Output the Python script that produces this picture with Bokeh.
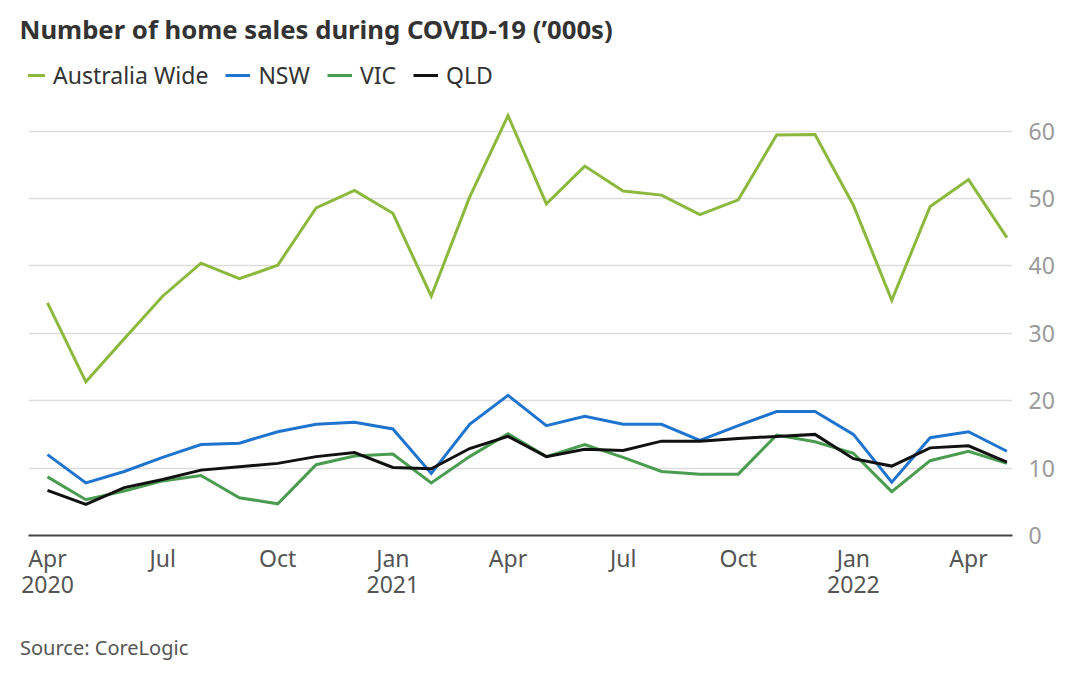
from bokeh.plotting import figure
from bokeh.layouts import column
from bokeh.models import (ColumnDataSource, FixedTicker, Legend, LegendItem, Range1d, Div)
from bokeh.embed import file_html
from bokeh.resources import INLINE

# ---- data (thousands of home sales, monthly Apr 2020 - May 2022) ----
months = ["2020-04", "2020-05", "2020-06", "2020-07", "2020-08", "2020-09", "2020-10",
          "2020-11", "2020-12", "2021-01", "2021-02", "2021-03", "2021-04", "2021-05",
          "2021-06", "2021-07", "2021-08", "2021-09", "2021-10", "2021-11", "2021-12",
          "2022-01", "2022-02", "2022-03", "2022-04", "2022-05"]
australia = [34.5, 22.8, 29.2, 35.5, 40.4, 38.1, 40.1, 48.6, 51.2, 47.8, 35.5, 50.2, 62.3,
             49.2, 54.8, 51.1, 50.5, 47.6, 49.8, 59.4, 59.5, 49.0, 34.9, 48.8, 52.8, 44.2]
nsw = [12.0, 7.8, 9.5, 11.6, 13.5, 13.7, 15.4, 16.5, 16.8, 15.8, 9.2, 16.5, 20.8,
       16.3, 17.7, 16.5, 16.5, 14.1, 16.3, 18.4, 18.4, 15.0, 7.9, 14.5, 15.4, 12.5]
vic = [8.7, 5.3, 6.6, 8.1, 8.9, 5.6, 4.7, 10.5, 11.8, 12.1, 7.8, 11.7, 15.1,
       11.7, 13.5, 11.6, 9.5, 9.1, 9.1, 14.9, 13.9, 12.2, 6.5, 11.1, 12.5, 10.7]
qld = [6.7, 4.6, 7.1, 8.3, 9.7, 10.2, 10.7, 11.7, 12.3, 10.1, 9.9, 12.9, 14.7,
       11.7, 12.8, 12.6, 14.0, 14.0, 14.4, 14.7, 15.0, 11.4, 10.3, 13.0, 13.3, 10.9]
series_names = ["Australia Wide", "NSW", "VIC", "QLD"]
series_colors = ["#8cb83e", "#1f74cf", "#4a9c50", "#111111"]
x_tick_months = ["2020-04", "2020-07", "2020-10", "2021-01", "2021-04", "2021-07",
                 "2021-10", "2022-01", "2022-04"]
x_tick_labels = ["Apr\n2020", "Jul", "Oct", "Jan\n2021", "Apr", "Jul", "Oct", "Jan\n2022", "Apr"]
y_ticks = [0, 10, 20, 30, 40, 50, 60]

FONT = "Noto Sans"

idx = list(range(len(months)))
src = ColumnDataSource(dict(x=idx, australia=australia, nsw=nsw, vic=vic, qld=qld))

p = figure(width=1072, height=605, output_backend="svg", toolbar_location=None,
           x_range=Range1d(-0.495, 25.146), y_range=Range1d(0, 71.06),
           min_border_left=28, min_border_right=60, min_border_top=50, min_border_bottom=70,
           y_axis_location="right")
p.outline_line_color = None
p.background_fill_color = "white"
p.border_fill_color = "white"

# title
p.title.text = "Number of home sales during COVID-19 (\u2019000s)"
p.title.text_font = FONT
p.title.text_font_size = "25.7px"
p.title.text_font_style = "bold"
p.title.text_color = "#333333"
p.title.align = "left"
p.title.offset = -9
p.title.standoff = 19

renderers = []
for col, name, color in zip(["australia", "nsw", "vic", "qld"], series_names, series_colors):
    r = p.line("x", col, source=src, line_color=color, line_width=3, line_join="miter")
    renderers.append((name, r))

legend = Legend(items=[LegendItem(label=n, renderers=[r]) for n, r in renderers],
                orientation="horizontal", location=(-8, 444),
                label_text_font=FONT, label_text_font_size="23px", label_text_color="#333333",
                glyph_width=25, glyph_height=24, label_standoff=8, spacing=17,
                padding=0, margin=0, background_fill_alpha=0, border_line_color=None)
p.add_layout(legend)

# x axis
tick_pos = [months.index(m) for m in x_tick_months]
xa = p.xaxis[0]
xa.ticker = FixedTicker(ticks=tick_pos)
xa.major_label_overrides = {t: l for t, l in zip(tick_pos, x_tick_labels)}
xa.major_label_text_font = FONT
xa.major_label_text_font_size = "23px"
xa.major_label_text_color = "#555555"
xa.major_label_text_line_height = 0.82
xa.major_tick_line_color = None
xa.minor_tick_line_color = None
xa.axis_line_color = "#444444"
xa.axis_line_width = 2
xa.major_label_standoff = 0

# y axis (right)
ya = p.yaxis[0]
ya.ticker = FixedTicker(ticks=y_ticks)
ya.major_label_text_font = FONT
ya.major_label_text_font_size = "23px"
ya.major_label_text_color = "#9a9a9a"
ya.major_tick_line_color = None
ya.minor_tick_line_color = None
ya.axis_line_color = None
ya.major_label_standoff = 10

p.xgrid.grid_line_color = None
p.ygrid.grid_line_color = "#dddddd"
p.ygrid.grid_line_width = 1.5

source_note = Div(text="Source: CoreLogic", width=600, height=62,
                  styles={"font-family": FONT, "font-size": "20px", "color": "#555555",
                          "padding-left": "20px", "padding-top": "29px",
                          "line-height": "28px", "margin": "0"})

layout = column(p, source_note, spacing=0)
open("out.html", "w").write(file_html(layout, INLINE))
